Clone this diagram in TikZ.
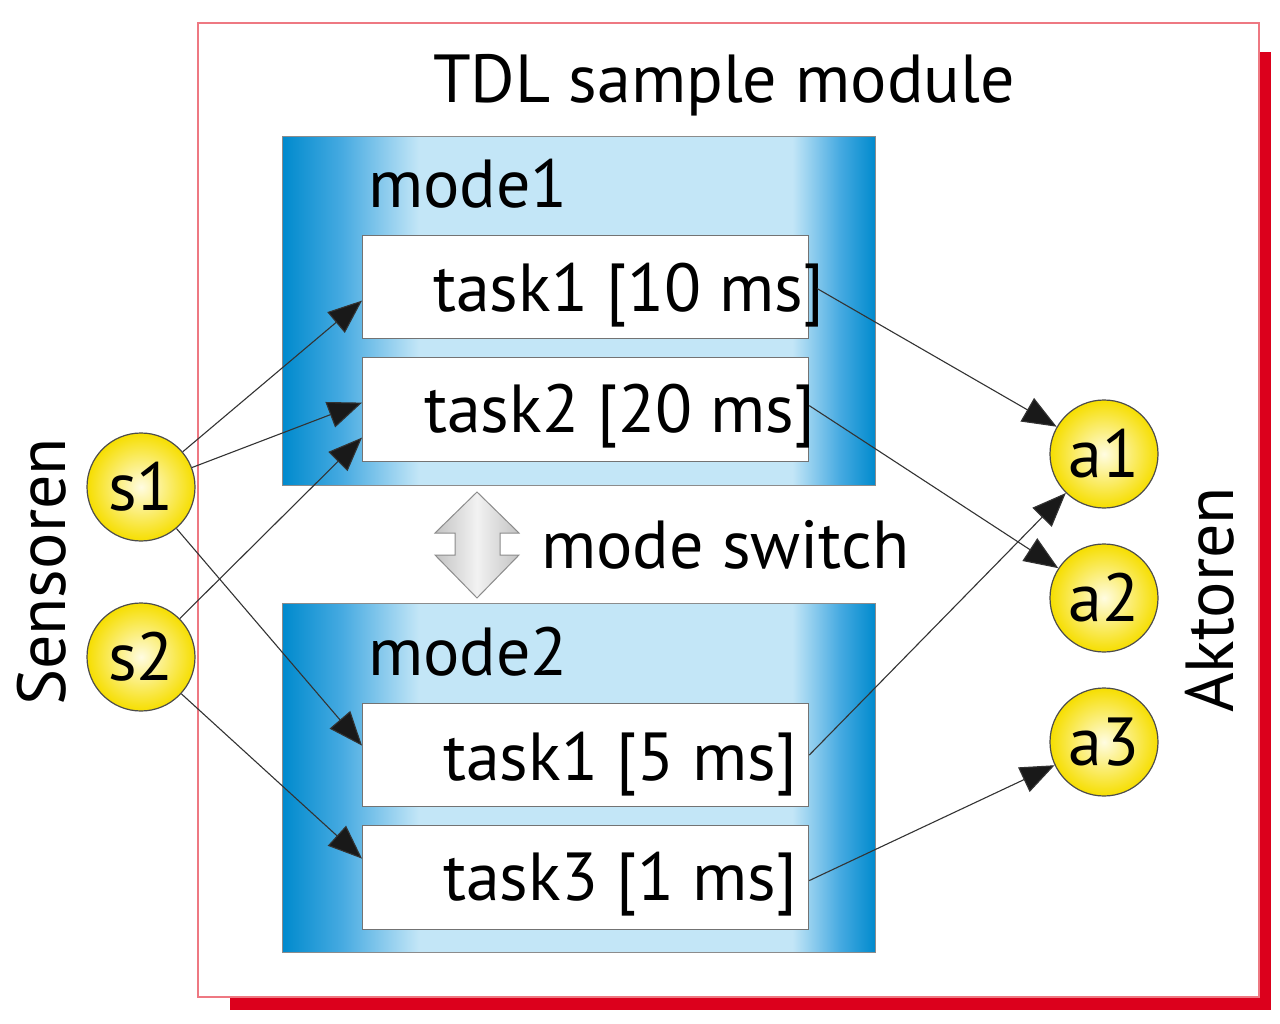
\documentclass[tikz,border=0pt]{standalone}
\usepackage{fontspec}
\setmainfont{PT Sans}
\usetikzlibrary{arrows.meta}
\definecolor{mdark}{RGB}{0,138,205}
\definecolor{mmid}{RGB}{70,170,225}
\definecolor{mlight}{RGB}{195,230,247}
\definecolor{framered}{RGB}{238,120,130}
\definecolor{shadowred}{RGB}{220,0,28}
\definecolor{yout}{RGB}{246,222,0}
\definecolor{yin}{RGB}{255,252,225}
\definecolor{garr1}{RGB}{195,195,195}
\definecolor{garr2}{RGB}{242,242,242}
\pgfdeclarehorizontalshading{modeshade}{100bp}{color(0bp)=(mdark); color(25bp)=(mdark); color(30bp)=(mmid); color(36.5bp)=(mlight); color(68bp)=(mlight); color(72bp)=(mmid); color(75bp)=(mdark); color(100bp)=(mdark)}
\newcommand\tdlfont{\fontsize{68pt}{74pt}\selectfont}
\begin{document}
\begin{tikzpicture}[x=1pt,y=-1pt,
  modebox/.style={draw=black!45, line width=0.8pt, shading=modeshade, rectangle, inner sep=0pt, anchor=north west, minimum width=593pt, minimum height=349pt},
  taskbox/.style={draw=black!55, line width=1.2pt, fill=white, rectangle, inner sep=0pt, anchor=north west, minimum width=446pt, minimum height=104pt},
  io/.style={circle, draw=black!70, line width=1.2pt, inner color=yin, outer color=yout, minimum size=108pt, inner sep=0pt, font=\tdlfont},
  lbl/.style={inner sep=0pt, font=\tdlfont, anchor=base west},
  conn/.style={draw=black!80, line width=1.1pt, -{Triangle[length=34pt,width=27pt,fill=black!90]}}
]
\useasboundingbox (0,0) rectangle (1280,1024);
\fill[white] (0,0) rectangle (1280,1024);
% module frame with shadow
\fill[shadowred] (230,52) rectangle (1271,1010);
\draw[framered, line width=1.5pt, fill=white] (198,23) rectangle (1259,997);
\node[inner sep=0pt, font=\tdlfont, anchor=base] (title) at (724,103) {TDL sample module};
% modes
\node[modebox] (m1) at (282,136) {};
\node[lbl] (m1l) at (368,208) {mode1};
\node[taskbox, minimum height=103pt] (t11) at (362,235) {};
\node[taskbox] (t12) at (362,357) {};
\node[lbl] (t11l) at (433,312) {task1 [10 ms]};
\node[lbl] (t12l) at (424,432) {task2 [20 ms]};
\node[modebox] (m2) at (282,603) {};
\node[lbl] (m2l) at (368,675) {mode2};
\node[taskbox, minimum height=103pt] (t21) at (362,703) {};
\node[taskbox] (t23) at (362,825) {};
\node[lbl] (t21l) at (443,780) {task1 [5 ms]};
\node[lbl] (t23l) at (443,900) {task3 [1 ms]};
% mode switch arrow
\path[draw=black!45, line width=1pt, left color=garr1, right color=garr1, middle color=garr2]
  (477,492) -- (519,533) -- (500,533) -- (500,555) -- (519,555) -- (477,598)
  -- (435,555) -- (455,555) -- (455,533) -- (435,533) -- cycle;
\node[lbl] (ms) at (541,568) {mode switch};
% sensors / actuators
\node[io] (s1) at (141,487) {s1};
\node[io] (s2) at (141,657) {s2};
\node[io] (a1) at (1104,454) {a1};
\node[io] (a2) at (1104,598) {a2};
\node[io] (a3) at (1104,742) {a3};
\node[inner sep=0pt, font=\tdlfont, rotate=90] (sens) at (42,572) {Sensoren};
\node[inner sep=0pt, font=\tdlfont, rotate=90] (akt) at (1210,600) {Aktoren};
% connectors
\draw[conn] (s1) -- ([yshift=-13.5pt]t11.west);
\draw[conn] (s1) -- ([yshift=7pt]t12.west);
\draw[conn] (s2) -- ([yshift=-28pt]t12.west);
\draw[conn] (s1) -- ([yshift=9.5pt]t21.west);
\draw[conn] (s2) -- ([yshift=19pt]t23.west);
\draw[conn] ([xshift=8pt,yshift=-1.5pt]t11.east) -- (a1);
\draw[conn] ([yshift=4pt]t12.east) -- (a2);
\draw[conn] (t21.east) -- (a1);
\draw[conn] ([yshift=-3pt]t23.east) -- (a3);
\end{tikzpicture}
\end{document}
